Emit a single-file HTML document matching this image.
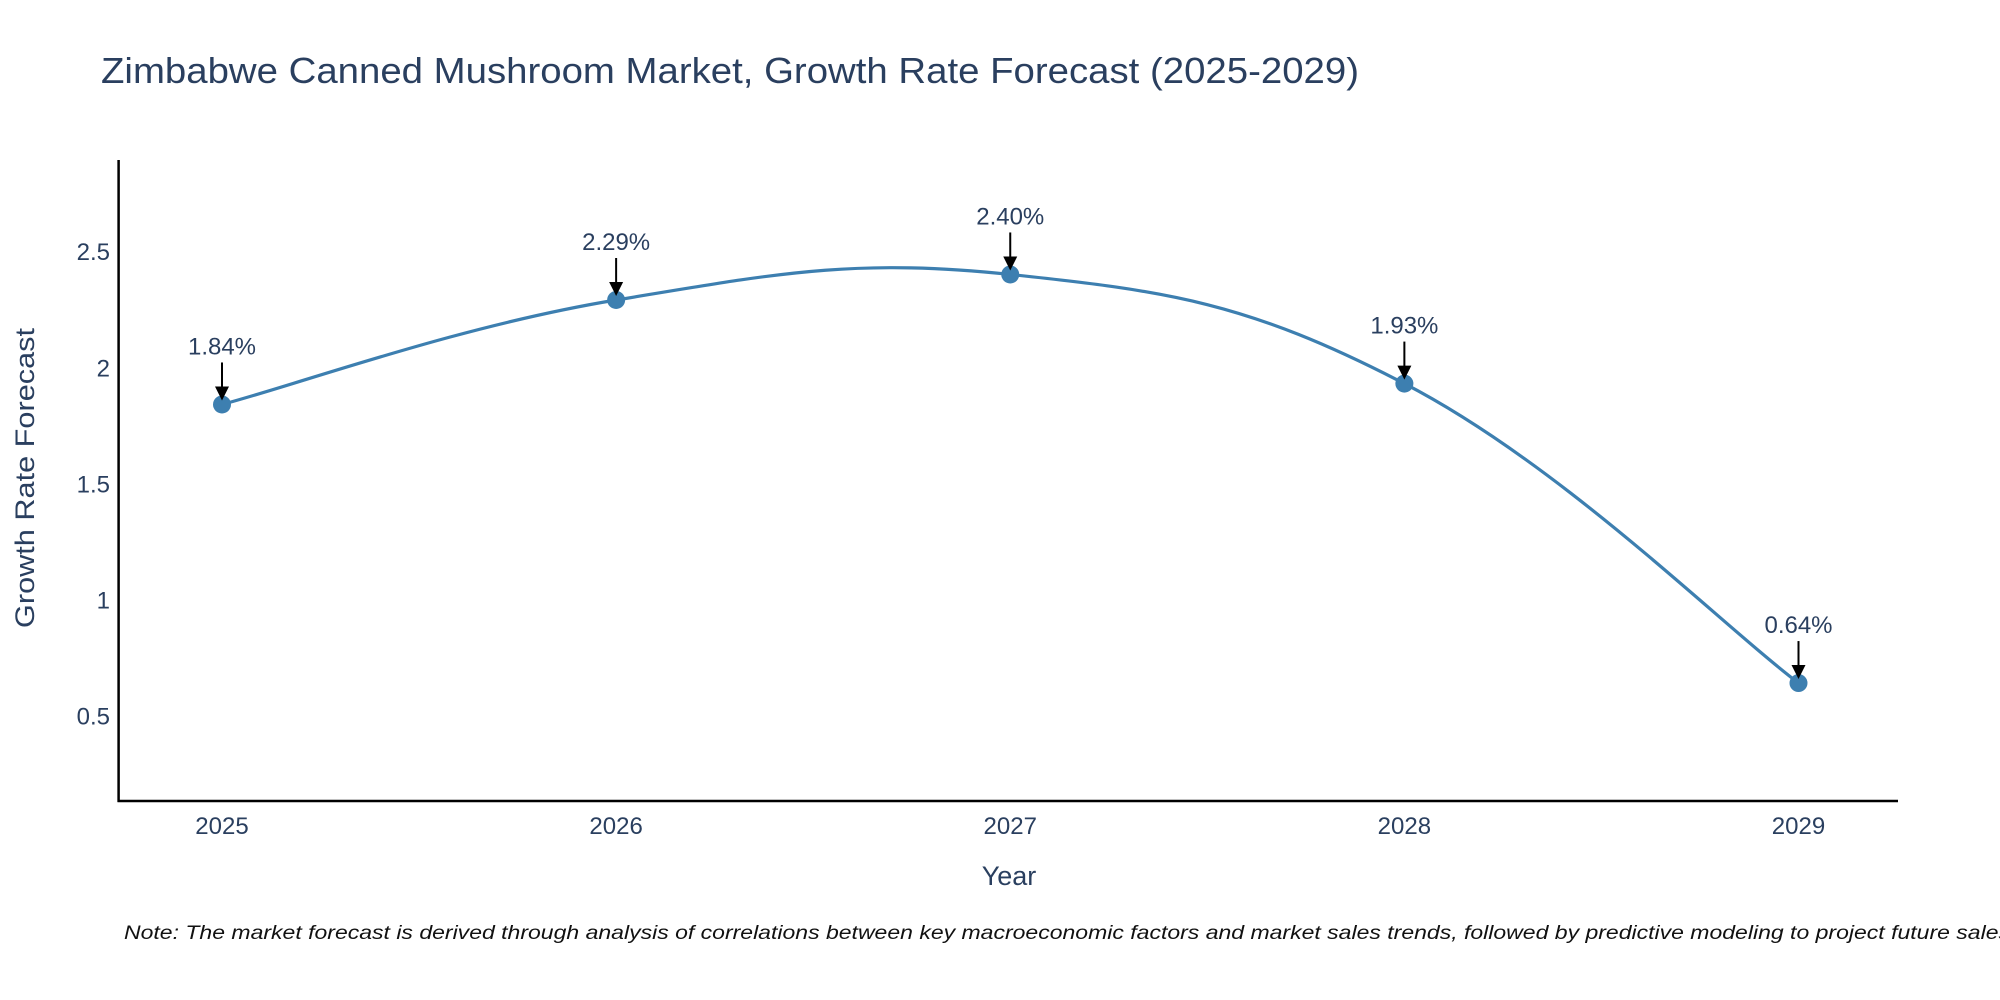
<!DOCTYPE html>
<html><head><meta charset="utf-8"><style>
html,body{margin:0;padding:0;background:#fff;}
svg{display:block;font-family:"Liberation Sans","DejaVu Sans",sans-serif;}
</style></head><body>
<svg id="chart" width="2000" height="1000" viewBox="0 0 2000 1000">
<text x="101" y="83" font-size="36" fill="#2a3f5f" textLength="1258" lengthAdjust="spacingAndGlyphs">Zimbabwe Canned Mushroom Market, Growth Rate Forecast (2025-2029)</text>
<g id="plot"></g>
<line x1="118.6" y1="160" x2="118.6" y2="802" stroke="#000" stroke-width="2.5"/>
<line x1="117.5" y1="801" x2="1898" y2="801" stroke="#000" stroke-width="2.5"/>
<text x="1009" y="885" font-size="27" fill="#2a3f5f" text-anchor="middle">Year</text>
<text transform="translate(34,478) rotate(-90)" font-size="27" fill="#2a3f5f" text-anchor="middle" textLength="300" lengthAdjust="spacingAndGlyphs">Growth Rate Forecast</text>
<text x="124" y="939" font-size="19" font-style="italic" fill="#111" textLength="1886" lengthAdjust="spacingAndGlyphs">Note: The market forecast is derived through analysis of correlations between key macroeconomic factors and market sales trends, followed by predictive modeling to project future sales</text>
</svg>
<script>
const years = [2025, 2026, 2027, 2028, 2029];
const values = [1.84, 2.29, 2.40, 1.93, 0.64];
const valueLabels = ["1.84%", "2.29%", "2.40%", "1.93%", "0.64%"];
const yTicks = [0.5, 1, 1.5, 2, 2.5];
const yTickLabels = ["0.5", "1", "1.5", "2", "2.5"];

const NS = "http://www.w3.org/2000/svg";
const svg = document.getElementById('chart');
const plot = document.getElementById('plot');
const X0 = 222, X1 = 1798.5;
function xs(v){ return X0 + (v - years[0]) * (X1 - X0) / (years[years.length-1] - years[0]); }
const Y_MIN = 0.132, Y_MAX = 2.89, PY0 = 801, PY1 = 160.7;
function ys(v){ return PY0 - (v - Y_MIN) * (PY0 - PY1) / (Y_MAX - Y_MIN); }
function mk(tag, attrs){ const e = document.createElementNS(NS, tag); for (const k in attrs) e.setAttribute(k, attrs[k]); return e; }

yTicks.forEach((t, i) => {
  const e = mk('text', {x: 110, y: ys(t) + 9, 'font-size': 24, fill: '#2a3f5f', 'text-anchor': 'end'});
  
  
  e.textContent = yTickLabels[i];
  svg.appendChild(e);
});
years.forEach(y => {
  const e = mk('text', {x: xs(y), y: 834, 'font-size': 24, fill: '#2a3f5f', 'text-anchor': 'middle'});
  
  
  e.textContent = String(y);
  svg.appendChild(e);
});

// spline path (Catmull-Rom)
const pts = years.map((y, i) => [xs(y), ys(values[i])]);
let d = 'M' + pts[0][0] + ',' + pts[0][1];
const s = 0.2;
for (let i = 0; i < pts.length - 1; i++) {
  const p0 = pts[Math.max(0, i-1)], p1 = pts[i], p2 = pts[i+1], p3 = pts[Math.min(pts.length-1, i+2)];
  const c1 = [p1[0] + (p2[0]-p0[0])*s, p1[1] + (p2[1]-p0[1])*s];
  const c2 = [p2[0] - (p3[0]-p1[0])*s, p2[1] - (p3[1]-p1[1])*s];
  d += ' C' + c1.join(',') + ' ' + c2.join(',') + ' ' + p2.join(',');
}
const line = mk('path', {d: d, fill: 'none', stroke: '#3d7fb0', 'stroke-width': 3.2});


plot.appendChild(line);

pts.forEach((p, i) => {
  const c = mk('circle', {cx: p[0], cy: p[1], r: 9, fill: '#3d7fb0'});
  
  
  plot.appendChild(c);
  const a = mk('line', {x1: p[0], y1: p[1] - 42, x2: p[0], y2: p[1] - 14, stroke: '#000', 'stroke-width': 2});
  
  
  plot.appendChild(a);
  const h = mk('polygon', {points: (p[0]-7)+','+(p[1]-18)+' '+(p[0]+7)+','+(p[1]-18)+' '+p[0]+','+(p[1]-4), fill: '#000'});
  
  
  plot.appendChild(h);
  const t = mk('text', {x: p[0], y: p[1] - 50, 'font-size': 24, fill: '#2a3f5f', 'text-anchor': 'middle'});
  
  
  t.textContent = valueLabels[i];
  plot.appendChild(t);
});
</script>
</body></html>
